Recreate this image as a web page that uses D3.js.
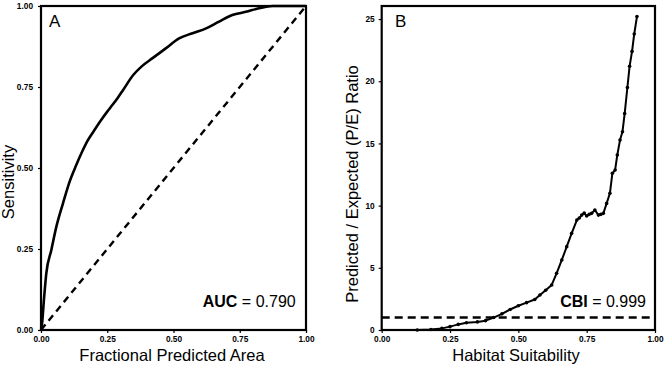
<!DOCTYPE html>
<html>
<head>
<meta charset="utf-8">
<script src="https://cdn.jsdelivr.net/npm/d3@7"></script>
<style>
  body { margin: 0; background: #fff; }
  svg { font-family: 'Liberation Sans', Arial, sans-serif; }
  .tick text { font-size: 8.3px; font-weight: bold; fill: #000; }
  .tick line { stroke: #000; stroke-width: 1.2; }
  .title { font-size: 16.5px; }
</style>
</head>
<body>
<svg width="666" height="367"></svg>
<script>
// ROC curve (panel A)
let rocFpa = [0, 0.004, 0.011, 0.02, 0.039, 0.058, 0.083, 0.108, 0.133, 0.155, 0.177, 0.2, 0.227, 0.25, 0.27,
    0.29, 0.31, 0.348, 0.379, 0.421, 0.472, 0.521, 0.572, 0.623, 0.672, 0.722, 0.773, 0.823, 0.873, 0.93, 1.0];
let rocSens = [0, 0.02, 0.093, 0.175, 0.247, 0.319, 0.391, 0.458, 0.509, 0.55, 0.586, 0.615, 0.648, 0.674, 0.695,
    0.717, 0.741, 0.787, 0.813, 0.839, 0.87, 0.9, 0.916, 0.931, 0.952, 0.972, 0.982, 0.993, 1.0, 1.0, 1.0];
let chanceLine = [0, 1];

// P/E curve (panel B)
let habitat = [0.13, 0.18, 0.22, 0.25, 0.28, 0.31, 0.35, 0.38, 0.41, 0.44, 0.47, 0.50, 0.53, 0.56, 0.579,
    0.60, 0.622, 0.640, 0.659, 0.677, 0.695, 0.714, 0.723, 0.732, 0.741, 0.750, 0.759, 0.768, 0.780, 0.793,
    0.802, 0.811, 0.823, 0.835, 0.844, 0.854, 0.862, 0.872, 0.881, 0.889, 0.899, 0.907, 0.916, 0.924, 0.934];
let peRatio = [0.0, 0.04, 0.13, 0.27, 0.45, 0.58, 0.65, 0.75, 1.0, 1.3, 1.65, 1.95, 2.2, 2.45, 2.81,
    3.2, 3.62, 4.56, 5.63, 6.7, 7.77, 8.84, 9.0, 9.24, 9.4, 9.16, 9.3, 9.38, 9.65, 9.24,
    9.3, 9.38, 10.18, 10.99, 12.6, 12.86, 14.07, 15.27, 15.94, 17.4, 19.5, 21.2, 22.4, 23.8, 25.2];
let expectedRatio = 1;

let unitTicks = [0, 0.25, 0.5, 0.75, 1];
let ratioTicks = [0, 5, 10, 15, 20, 25];

let svg = d3.select('svg');

let plotTop = 6, plotBottom = 330;

// panel A scales
let xA = d3.scaleLinear().domain([0, 1]).range([41, 306]);
let yA = d3.scaleLinear().domain([0, 1]).range([plotBottom, plotTop]);

// panel B scales
let xB = d3.scaleLinear().domain([0, 1]).range([381.7, 655]);
let yB = d3.scaleLinear().domain([0, 26.05]).range([plotBottom, plotTop]);

function drawAxes(x, y, yTicks, yFormat, yPad) {
    svg.append('g')
        .attr('transform', 'translate(0,' + plotBottom + ')')
        .call(d3.axisBottom(x).tickValues(unitTicks).tickFormat(d3.format('.2f')).tickSize(3).tickPadding(3))
        .call(g => g.select('.domain').remove());
    svg.append('g')
        .attr('transform', 'translate(' + x.range()[0] + ',0)')
        .call(d3.axisLeft(y).tickValues(yTicks).tickFormat(yFormat).tickSize(3).tickPadding(yPad))
        .call(g => g.select('.domain').remove());
}

drawAxes(xA, yA, unitTicks, d3.format('.2f'), 5);
drawAxes(xB, yB, ratioTicks, d3.format('d'), 4);

// chance diagonal
svg.append('path')
    .datum(chanceLine)
    .attr('d', d3.line().x(d => xA(d)).y(d => yA(d)))
    .attr('fill', 'none')
    .attr('stroke', '#000')
    .attr('stroke-width', 2.4)
    .attr('stroke-dasharray', '7,5');

let rocData = rocFpa.map((d, i) => ({ x: d, y: rocSens[i] }));
svg.append('path')
    .datum(rocData)
    .attr('d', d3.line().x(d => xA(d.x)).y(d => yA(d.y)).curve(d3.curveMonotoneX))
    .attr('fill', 'none')
    .attr('stroke', '#000')
    .attr('stroke-width', 2.6)
    .attr('stroke-linejoin', 'round');

// expected ratio line
svg.append('line')
    .attr('x1', xB(0)).attr('x2', xB(1))
    .attr('y1', yB(expectedRatio)).attr('y2', yB(expectedRatio))
    .attr('stroke', '#000')
    .attr('stroke-width', 2.4)
    .attr('stroke-dasharray', '8,5');

let peData = habitat.map((d, i) => ({ x: d, y: peRatio[i] }));
svg.append('path')
    .datum(peData)
    .attr('d', d3.line().x(d => xB(d.x)).y(d => yB(d.y)))
    .attr('fill', 'none')
    .attr('stroke', '#000')
    .attr('stroke-width', 2)
    .attr('stroke-linejoin', 'round');

svg.selectAll('.pe-dot').data(peData).enter().append('circle')
    .attr('class', 'pe-dot')
    .attr('cx', d => xB(d.x))
    .attr('cy', d => yB(d.y))
    .attr('r', 1.8)
    .attr('fill', '#000');

// frames
[xA, xB].forEach(x => {
    svg.append('rect')
        .attr('x', x.range()[0])
        .attr('y', plotTop)
        .attr('width', x.range()[1] - x.range()[0])
        .attr('height', plotBottom - plotTop)
        .attr('fill', 'none')
        .attr('stroke', '#000')
        .attr('stroke-width', 2.2);
});

// panel letters
svg.append('text').attr('x', 49).attr('y', 27).attr('font-size', '17px').text('A');
svg.append('text').attr('x', 395).attr('y', 27).attr('font-size', '17px').text('B');

// stats
let auc = svg.append('text').attr('x', 295.7).attr('y', 306.7).attr('text-anchor', 'end').attr('font-size', '16px');
auc.append('tspan').attr('font-weight', 'bold').text('AUC');
auc.append('tspan').text(' = 0.790');

let cbi = svg.append('text').attr('x', 646).attr('y', 306.7).attr('text-anchor', 'end').attr('font-size', '16px');
cbi.append('tspan').attr('font-weight', 'bold').text('CBI');
cbi.append('tspan').text(' = 0.999');

// axis titles
svg.append('text')
    .attr('class', 'title')
    .attr('x', 172).attr('y', 361)
    .attr('text-anchor', 'middle')
    .text('Fractional Predicted Area');

svg.append('text')
    .attr('class', 'title')
    .attr('x', 516).attr('y', 361)
    .attr('text-anchor', 'middle')
    .text('Habitat Suitability');

svg.append('text')
    .attr('class', 'title')
    .attr('transform', 'translate(13.5,182) rotate(-90)')
    .attr('text-anchor', 'middle')
    .text('Sensitivity');

svg.append('text')
    .attr('class', 'title')
    .attr('transform', 'translate(358,184) rotate(-90)')
    .attr('text-anchor', 'middle')
    .text('Predicted / Expected (P/E) Ratio');
</script>
</body>
</html>
